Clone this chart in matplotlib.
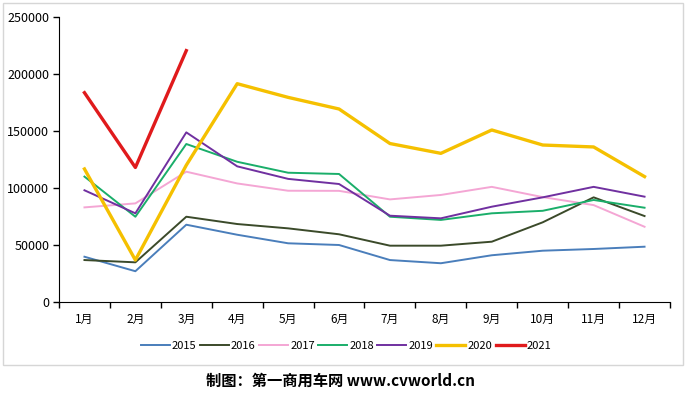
import matplotlib
matplotlib.use('Agg')
import matplotlib.pyplot as plt
import numpy as np

plt.rcParams['font.family'] = ['Noto Sans CJK SC', 'DejaVu Sans']

# 月份
months = ['1月', '2月', '3月', '4月', '5月', '6月', '7月', '8月', '9月', '10月', '11月', '12月']

# 各年销量
sales_2015 = [39700, 27000, 67800, 59000, 51500, 50000, 36800, 34000, 41000, 45000, 46500, 48500]
sales_2016 = [36800, 34800, 74800, 68400, 64600, 59400, 49400, 49400, 52900, 69900, 91800, 75400]
sales_2017 = [83000, 86500, 114300, 104000, 97600, 97500, 90000, 93900, 101000, 92000, 85000, 66000]
sales_2018 = [110000, 74800, 138600, 123000, 113400, 112300, 74800, 72000, 77800, 80000, 89500, 82700]
sales_2019 = [98000, 77800, 148800, 119000, 108000, 103500, 75700, 73400, 83600, 91800, 101000, 92400]
sales_2020 = [116700, 36800, 120000, 191500, 179500, 169300, 139000, 130400, 150900, 137700, 136000, 110000]
sales_2021 = [183600, 118000, 220500]

years = ['2015', '2016', '2017', '2018', '2019', '2020', '2021']
series = [sales_2015, sales_2016, sales_2017, sales_2018, sales_2019, sales_2020, sales_2021]
colors = ['#4a7ebb', '#3b4a2a', '#f4a6d4', '#1aae6a', '#7030a0', '#f5c000', '#e01a1c']
widths = [1.4, 1.4, 1.4, 1.4, 1.4, 2.4, 2.4]

fig = plt.figure(figsize=(6.88, 3.94), dpi=100)
ax = fig.add_axes([59 / 688, 1 - 302 / 394, 611 / 688, 285 / 394])

x = np.arange(len(months))
for yr, vals, c, lw in zip(years, series, colors, widths):
    ax.plot(x[:len(vals)], vals, color=c, linewidth=lw, label=yr, zorder=3 if yr in ('2020', '2021') else 2)

ax.set_xlim(-0.5, len(months) - 0.5)
ax.set_ylim(0, 250000)
ax.set_yticks(np.arange(0, 250001, 50000))
ax.set_yticklabels([str(v) for v in range(0, 250001, 50000)], fontsize=9)
ax.set_xticks(x)
ax.set_xticklabels(months, fontsize=8.5)
ax.set_xticks(np.arange(-0.5, len(months), 1), minor=True)
ax.tick_params(axis='x', which='major', length=0, pad=8)
ax.tick_params(axis='x', which='minor', length=4, direction='out', width=1)
ax.tick_params(axis='y', length=4, direction='out', width=1, pad=3)
for s in ['top', 'right']:
    ax.spines[s].set_visible(False)
ax.spines['left'].set_color('black')
ax.spines['bottom'].set_color('black')

ax.legend(loc='center', bbox_to_anchor=(0.47, -0.155), ncol=7, frameon=False,
          fontsize=8, handlelength=2.6, handletextpad=0.2, columnspacing=0.3)

# 外框
frame = plt.Rectangle((3 / 688, 1 - 365 / 394), 680 / 688, 362 / 394,
                      transform=fig.transFigure, fill=False, edgecolor='#d6d6d6', linewidth=1)
fig.patches.append(frame)

fig.text(340 / 688, 1 - 381 / 394, '制图：第一商用车网 www.cvworld.cn', ha='center', va='center',
         fontsize=11, fontweight='bold')

fig.savefig('out.png', dpi=100)
